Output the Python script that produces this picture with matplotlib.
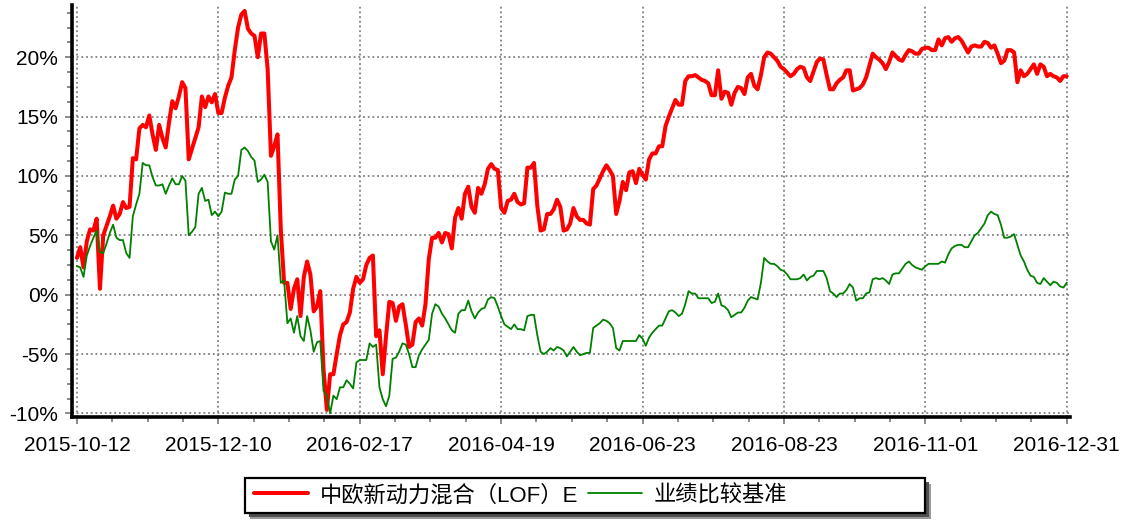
import numpy as np
import matplotlib
matplotlib.use('Agg')
import matplotlib.pyplot as plt
from matplotlib.ticker import MultipleLocator, FixedLocator, FuncFormatter
from matplotlib.patches import Rectangle

plt.rcParams['font.family'] = ['Liberation Sans', 'Noto Sans CJK SC', 'DejaVu Sans']

# ---------------- data (cumulative return, %) ----------------
fund = [
    3.1, 4.0, 2.3, 4.5, 5.5, 5.4, 6.4, 0.5, 5.0, 5.8,
    6.6, 7.5, 6.4, 6.8, 7.8, 7.3, 7.4, 11.5, 11.4, 14.0,
    14.3, 14.1, 15.1, 13.5, 12.2, 14.3, 13.2, 12.4, 14.5, 16.3,
    15.7, 16.7, 17.9, 17.4, 11.4, 12.3, 13.2, 14.1, 16.7, 15.8,
    16.7, 16.2, 16.9, 15.3, 15.3, 16.6, 17.6, 18.3, 20.6, 22.5,
    23.6, 23.9, 22.4, 22.0, 21.8, 20.0, 22.0, 22.0, 19.0, 11.7,
    12.5, 13.5, 5.5, 1.0, 1.0, -1.2, 0.5, 1.3, -1.8, 1.5,
    2.8, 1.7, -1.4, -1.0, 0.3, -6.3, -9.7, -6.7, -6.7, -5.0,
    -3.4, -2.5, -2.3, -1.5, 0.5, 1.5, 1.0, 1.3, 2.5, 3.1,
    3.3, -3.5, -3.0, -6.7, -3.5, -0.6, -0.7, -2.2, -1.0, -0.8,
    -2.5, -4.4, -4.2, -2.3, -2.0, -2.6, -0.8, 3.0, 4.8, 4.8,
    5.2, 4.4, 5.2, 5.1, 3.9, 6.5, 7.3, 6.4, 8.5, 9.1,
    7.4, 6.9, 9.0, 8.5, 9.3, 10.6, 11.0, 10.6, 10.5, 7.3,
    6.9, 7.9, 8.0, 8.5, 7.8, 7.6, 7.7, 10.7, 10.7, 11.1,
    7.5, 5.4, 5.5, 6.8, 6.8, 7.2, 8.0, 7.4, 5.4, 5.5,
    6.0, 7.3, 6.6, 6.3, 6.3, 6.0, 5.9, 8.9, 9.2, 9.8,
    10.4, 10.9, 10.5, 10.0, 6.8, 7.9, 9.5, 8.8, 10.3, 10.4,
    9.4, 10.6, 10.1, 9.7, 11.4, 11.9, 11.9, 12.5, 12.5, 14.2,
    15.0, 15.7, 16.4, 16.0, 16.0, 18.0, 18.4, 18.4, 18.5, 18.3,
    18.1, 18.0, 17.8, 16.8, 16.8, 18.9, 16.5, 17.1, 17.0, 16.0,
    17.0, 17.5, 17.4, 16.9, 18.3, 18.6, 17.6, 17.3, 18.5, 20.0,
    20.4, 20.3, 20.0, 19.7, 19.2, 19.0, 18.7, 18.4, 18.6, 19.0,
    19.2, 19.1, 18.3, 18.0, 18.8, 19.6, 19.9, 19.8, 18.5, 17.3,
    17.3, 17.8, 18.1, 18.3, 18.9, 18.9, 17.2, 17.3, 17.4, 17.7,
    18.3, 19.3, 20.3, 20.0, 19.8, 19.5, 19.0, 19.6, 20.4, 20.1,
    19.8, 19.7, 20.2, 20.6, 20.5, 20.3, 20.3, 20.7, 20.8, 20.8,
    20.6, 20.6, 21.5, 21.0, 21.6, 21.7, 21.3, 21.6, 21.7, 21.4,
    20.9, 20.4, 20.9, 21.0, 20.9, 20.9, 21.3, 21.2, 20.8, 21.0,
    20.3, 19.5, 19.7, 20.6, 20.6, 20.4, 17.9, 18.9, 18.4, 18.6,
    19.0, 19.4, 18.6, 19.4, 19.2, 18.4, 18.6, 18.4, 18.3, 18.0,
    18.4, 18.4,
]

benchmark = [
    2.4, 2.3, 1.5, 3.3, 4.1, 4.8, 5.4, 3.6, 3.5, 4.3,
    5.2, 5.9, 4.8, 4.6, 4.6, 3.5, 3.1, 6.6, 7.6, 8.5,
    11.1, 10.9, 10.9, 9.9, 9.2, 9.2, 9.3, 8.5, 9.2, 9.8,
    9.3, 9.3, 10.0, 9.6, 5.0, 5.3, 5.7, 8.5, 9.0, 7.9,
    8.0, 6.7, 7.0, 6.6, 7.0, 8.6, 8.5, 8.5, 9.7, 10.0,
    12.2, 12.4, 12.1, 11.6, 11.3, 9.5, 9.7, 10.1, 9.5, 4.5,
    3.8, 5.0, 1.0, 1.2, -2.4, -2.0, -3.2, -1.8, -3.5, -3.9,
    -1.8, -3.0, -4.8, -4.0, -3.9, -8.1, -8.5, -10.0, -8.5, -8.8,
    -7.8, -7.8, -7.2, -7.5, -7.9, -5.7, -5.5, -5.5, -5.5, -4.1,
    -4.4, -4.2, -7.8, -8.8, -9.4, -8.5, -5.4, -5.3, -4.8, -4.1,
    -4.2, -5.0, -6.1, -6.1, -5.1, -4.6, -4.2, -3.8, -1.6, -0.8,
    -1.0, -1.6, -2.0, -2.5, -3.0, -3.2, -1.6, -1.3, -1.3, -0.5,
    -1.4, -2.0, -1.5, -1.2, -1.1, -0.4, -0.2, -0.3, -1.0, -1.8,
    -2.5, -2.7, -2.9, -2.5, -2.9, -2.9, -3.0, -1.8, -1.7, -1.7,
    -3.4, -4.8, -5.0, -4.8, -4.5, -4.7, -4.4, -4.5, -4.7, -5.2,
    -4.8, -4.4, -4.8, -5.1, -5.0, -4.9, -4.9, -2.8, -2.6, -2.4,
    -2.1, -2.2, -2.4, -2.8, -4.5, -4.7, -3.9, -3.9, -3.9, -3.9,
    -3.9, -3.4, -3.7, -4.3, -3.6, -3.2, -2.9, -2.6, -2.6, -2.0,
    -1.4, -1.3, -1.5, -1.8, -1.6, -0.8, 0.3, 0.1, 0.1, -0.3,
    -0.3, -0.3, -0.3, -0.7, -0.6, 0.1, -0.9, -1.0, -1.3, -1.9,
    -1.7, -1.5, -1.5, -1.1, -0.5, -0.2, -0.3, -0.4, 1.0, 3.1,
    2.8, 2.6, 2.6, 2.4, 2.1, 2.0, 1.7, 1.3, 1.3, 1.3,
    1.4, 1.7, 1.2, 1.5, 1.6, 2.0, 2.0, 2.0, 1.4, 0.3,
    0.1, -0.2, 0.1, 0.1, 0.4, 0.9, 0.6, -0.5, -0.3, -0.3,
    0.1, 0.2, 1.3, 1.4, 1.3, 1.4, 1.2, 0.9, 1.7, 1.8,
    1.8, 2.2, 2.6, 2.8, 2.5, 2.3, 2.2, 2.1, 2.4, 2.6,
    2.6, 2.6, 2.6, 2.8, 2.7, 3.4, 3.9, 4.1, 4.2, 4.2,
    4.0, 4.0, 4.5, 5.0, 5.2, 5.6, 6.0, 6.7, 7.0, 6.8,
    6.7, 5.9, 4.8, 4.8, 4.9, 5.1, 4.2, 3.3, 2.8, 2.1,
    1.6, 1.5, 1.0, 0.9, 1.4, 1.1, 0.8, 1.1, 1.0, 0.7,
    0.6, 1.0,
]

tick_labels = ['2015-10-12', '2015-12-10', '2016-02-17', '2016-04-19',
               '2016-06-23', '2016-08-23', '2016-11-01', '2016-12-31']
tick_index = [0, 43, 86, 129, 172, 215, 258, 301]

series_names = ['中欧新动力混合（LOF）E', '业绩比较基准']

# ---------------- figure ----------------
W, H = 1125, 521
fig = plt.figure(figsize=(W / 100, H / 100), dpi=100)
ax = fig.add_axes([72 / W, 1 - 417 / H, 998 / W, 412 / H])

x = np.arange(len(fund))
ax.plot(x, fund, color='#ff0000', lw=2.9, solid_joinstyle='round',
        solid_capstyle='round', label=series_names[0], zorder=3)
ax.plot(x, benchmark, color='#008000', lw=1.3, label=series_names[1], zorder=4)

ax.set_xlim(-1.5, 302)
ax.set_ylim(-10.3, 24.4)

# ticks
ax.xaxis.set_major_locator(FixedLocator(tick_index))
ax.set_xticklabels(tick_labels)
ax.xaxis.set_minor_locator(FixedLocator(np.arange(0, 302, 43 / 4)))
ax.yaxis.set_major_locator(MultipleLocator(5))
ax.yaxis.set_minor_locator(MultipleLocator(1.25))
ax.yaxis.set_major_formatter(FuncFormatter(lambda v, p: f'{v:.0f}%'))

ax.tick_params(axis='both', which='major', labelsize=15, color='#808080',
               labelcolor='black', width=1.3, length=5)
ax.tick_params(axis='both', which='minor', color='#808080', width=1.3, length=3.5)
ax.tick_params(axis='x', which='major', pad=9)
ax.tick_params(axis='y', which='major', pad=5)

# grid
ax.grid(True, which='major', color='#808080', linestyle=(0, (1.0, 1.6)),
        linewidth=1.3, zorder=1)
ax.set_axisbelow(True)

for s in ['top', 'right']:
    ax.spines[s].set_visible(False)
for s in ['left', 'bottom']:
    ax.spines[s].set_linewidth(2.6)
    ax.spines[s].set_color('black')

# ---------------- legend ----------------
bx0, by0, bw, bh = 245, 478, 680, 35
shadow2 = Rectangle(((bx0 + 5) / W, 1 - (by0 + bh + 6) / H), (bw + 1) / W, bh / H,
                    transform=fig.transFigure, facecolor='#9a9a9a',
                    edgecolor='none', zorder=0)
shadow = Rectangle(((bx0 + 4) / W, 1 - (by0 + bh + 4) / H), bw / W, bh / H,
                   transform=fig.transFigure, facecolor='#505050',
                   edgecolor='none', zorder=0)
frame = Rectangle((bx0 / W, 1 - (by0 + bh) / H), bw / W, bh / H,
                  transform=fig.transFigure, facecolor='white',
                  edgecolor='black', linewidth=1.6, zorder=1)
fig.add_artist(shadow2)
fig.add_artist(shadow)
fig.add_artist(frame)

leg = fig.legend(loc='center left', bbox_to_anchor=(254 / W, 1 - (by0 + bh / 2) / H),
                 ncol=2, frameon=False, fontsize=16, handlelength=2.45,
                 handletextpad=0.5, columnspacing=0.45, borderpad=0,
                 borderaxespad=0)
leg.set_zorder(2)
for ln in leg.get_lines():
    ln.set_solid_capstyle('round')

fig.savefig('out.png', dpi=100)
